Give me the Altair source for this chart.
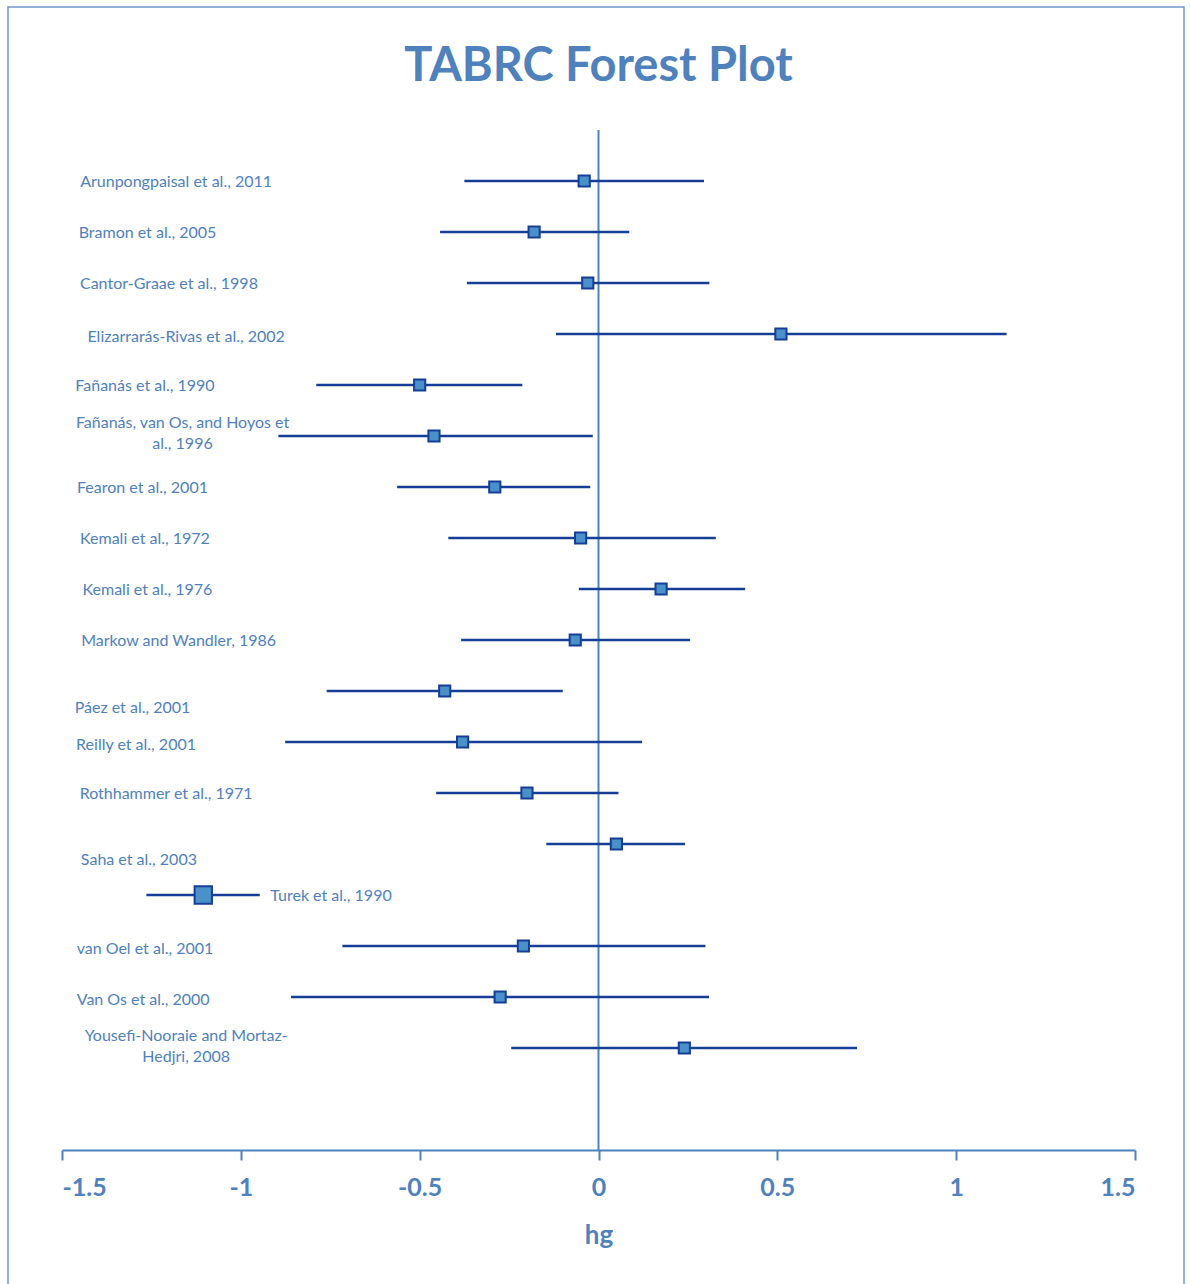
import altair as alt
import pandas as pd

# Studies, top to bottom
studies = [
    "Arunpongpaisal et al., 2011",
    "Bramon et al., 2005",
    "Cantor-Graae et al., 1998",
    "Elizarrarás-Rivas et al., 2002",
    "Fañanás et al., 1990",
    "Fañanás, van Os, and Hoyos et\nal., 1996",
    "Fearon et al., 2001",
    "Kemali et al., 1972",
    "Kemali et al., 1976",
    "Markow and Wandler, 1986",
    "Páez et al., 2001",
    "Reilly et al., 2001",
    "Rothhammer et al., 1971",
    "Saha et al., 2003",
    "Turek et al., 1990",
    "van Oel et al., 2001",
    "Van Os et al., 2000",
    "Yousefi-Nooraie and Mortaz-\nHedjri, 2008",
]

# Effect size (hg) with lower / upper confidence limits
hg = [-0.04, -0.18, -0.03, 0.51, -0.50, -0.46, -0.29, -0.05, 0.175, -0.065,
      -0.43, -0.38, -0.20, 0.05, -1.105, -0.21, -0.275, 0.24]
lower = [-0.375, -0.443, -0.368, -0.119, -0.789, -0.895, -0.563, -0.42, -0.055, -0.384,
         -0.76, -0.876, -0.454, -0.146, -1.264, -0.716, -0.86, -0.244]
upper = [0.295, 0.086, 0.31, 1.141, -0.213, -0.016, -0.023, 0.328, 0.41, 0.256,
         -0.10, 0.122, 0.056, 0.242, -0.947, 0.299, 0.309, 0.723]

# Where each study's label sits (hg units across, row units down)
label_x = [-1.181, -1.261, -1.201, -1.153, -1.268, -1.163, -1.275, -1.268, -1.261, -1.174,
           -1.303, -1.293, -1.209, -1.285, -0.748, -1.268, -1.273, -1.153]
label_row = [1.02, 2.02, 3.02, 4.05, 5.02, 5.745, 7.02, 8.02, 9.02, 10.02,
             11.33, 12.06, 13.02, 14.31, 15.02, 16.06, 17.06, 17.765]

# Turek et al. is drawn with a larger marker
big_marker = "Turek et al., 1990"

x_ticks = [-1.5, -1, -0.5, 0, 0.5, 1, 1.5]

df = pd.DataFrame({
    "study": studies,
    "row": list(range(1, len(studies) + 1)),
    "hg": hg,
    "lower": lower,
    "upper": upper,
    "label_x": label_x,
    "label_row": label_row,
})
df["msize"] = [300 if s == big_marker else 125 for s in studies]

BLUE = "#4F81BD"
NAVY = "#173E96"
FILL = "#4A90C9"
FONT = "Lato"

x_scale = alt.Scale(domain=[-1.5, 1.5], nice=False, zero=False)
y_scale = alt.Scale(domain=[0, 20], reverse=True, nice=False, zero=False)

base = alt.Chart(df)

x_axis = alt.Axis(
    values=x_ticks,
    labelExpr="datum.value + ''",
    grid=False,
    domainColor=BLUE,
    domainWidth=2,
    tickColor=BLUE,
    tickWidth=2,
    tickSize=10,
    labelFont=FONT,
    labelFontSize=25,
    labelFontWeight="bold",
    labelColor=BLUE,
    labelPadding=15,
    title="hg",
    titleFont=FONT,
    titleFontSize=26,
    titleFontWeight="bold",
    titleColor=BLUE,
    titlePadding=22,
)

zero_line = base.mark_rule(color=BLUE, strokeWidth=2).encode(
    x=alt.X("z:Q", scale=x_scale, axis=x_axis),
).transform_calculate(z="0").transform_filter("datum.row == 1")

ci = base.mark_rule(color=NAVY, strokeWidth=2.6).encode(
    x=alt.X("lower:Q", scale=x_scale),
    x2="upper:Q",
    y=alt.Y("row:Q", scale=y_scale, axis=None),
)

points = base.mark_square(filled=True, fill=FILL, stroke=NAVY, strokeWidth=2, opacity=1).encode(
    x=alt.X("hg:Q", scale=x_scale),
    y=alt.Y("row:Q", scale=y_scale),
    size=alt.Size("msize:Q", scale=None, legend=None),
)

labels = base.mark_text(
    font=FONT, fontSize=16, color=BLUE, align="center", baseline="middle",
    lineBreak="\n", lineHeight=21,
).encode(
    x=alt.X("label_x:Q", scale=x_scale),
    y=alt.Y("label_row:Q", scale=y_scale),
    text="study:N",
)

# Outer chart border
frame = base.mark_rect(fill=None, stroke="#6F97CC", strokeWidth=1.5).encode(
    x=alt.value(-54), x2=alt.value(1122), y=alt.value(-123), y2=alt.value(1190),
).transform_filter("datum.row == 1")

chart = alt.layer(frame, zero_line, ci, points, labels).properties(
    width=1073,
    height=1020,
    background="white",
    padding={"left": 62, "top": 130, "right": 55, "bottom": 134},
    autosize=alt.AutoSizeParams(type="none"),
    title=alt.TitleParams(
        "TABRC Forest Plot", font=FONT, fontSize=47, fontWeight="bold",
        color=BLUE, anchor="middle", baseline="alphabetic", offset=-122,
    ),
).configure_view(strokeWidth=0, stroke="transparent")

chart.save("out.html", embed_options={"renderer": "svg", "actions": False})
